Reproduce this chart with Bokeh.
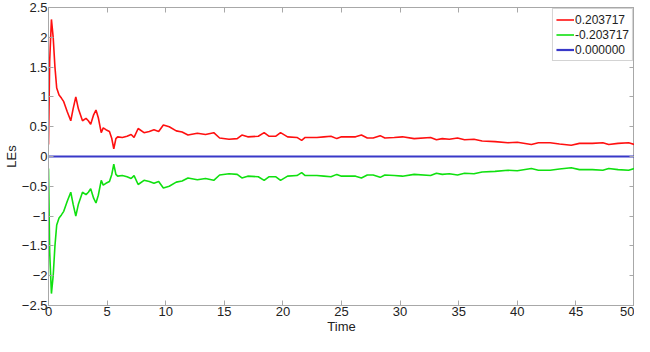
from bokeh.plotting import figure
from bokeh.models import LinearAxis, Range1d, FixedTicker, Legend, LegendItem
from bokeh.embed import file_html
from bokeh.resources import INLINE

time = [0, 0.1, 0.25, 0.4, 0.55, 0.7, 0.9, 1.1, 1.3, 1.6, 1.9, 2.1, 2.33, 2.55, 2.9, 3.2,
        3.4, 3.6, 3.85, 4.05, 4.25, 4.5, 4.67, 4.9, 5.2, 5.4, 5.57, 5.75, 5.9, 6.3, 6.7,
        7.05, 7.3, 7.65, 8.15, 8.6, 9.0, 9.4, 9.8, 10.3, 10.9, 11.4, 11.9, 12.7, 13.4,
        14.1, 14.6, 15.4, 16.1, 16.5, 17.0, 17.9, 18.4, 18.8, 19.4, 19.8, 20.4, 21.2,
        21.6, 21.9, 22.9, 23.5, 24.1, 24.6, 25.0, 26.2, 26.7, 27.2, 27.7, 28.3, 28.7,
        29.5, 30.2, 31.2, 32.6, 33.1, 33.6, 34.2, 34.9, 35.5, 36.3, 37.0, 38.1, 39.2,
        40.0, 41.2, 41.8, 42.8, 43.6, 44.6, 45.3, 46.4, 47.3, 47.8, 48.6, 49.5, 50.0]

le_pos = [0.2, 1.6, 2.3, 2.0, 1.5, 1.15, 1.03, 0.98, 0.92, 0.75, 0.6, 0.8, 1.0, 0.8, 0.6, 0.64,
          0.6, 0.54, 0.7, 0.78, 0.65, 0.4, 0.48, 0.45, 0.42, 0.3, 0.13, 0.3, 0.33, 0.32, 0.34,
          0.37, 0.32, 0.47, 0.4, 0.42, 0.45, 0.42, 0.53, 0.5, 0.43, 0.41, 0.36, 0.39, 0.37,
          0.40, 0.31, 0.29, 0.30, 0.36, 0.33, 0.34, 0.40, 0.34, 0.34, 0.40, 0.33, 0.32,
          0.27, 0.32, 0.32, 0.33, 0.34, 0.30, 0.33, 0.33, 0.36, 0.31, 0.31, 0.35, 0.31,
          0.32, 0.33, 0.30, 0.32, 0.28, 0.30, 0.29, 0.31, 0.28, 0.29, 0.26, 0.25, 0.23,
          0.24, 0.20, 0.23, 0.23, 0.21, 0.19, 0.22, 0.22, 0.23, 0.20, 0.22, 0.23, 0.20]

le_neg = [-0.2, -1.6, -2.3, -2.0, -1.5, -1.15, -1.03, -0.98, -0.92, -0.75, -0.6, -0.8, -1.0, -0.8, -0.6, -0.64,
          -0.6, -0.54, -0.7, -0.78, -0.65, -0.4, -0.48, -0.45, -0.42, -0.3, -0.13, -0.3, -0.33, -0.32, -0.34,
          -0.37, -0.32, -0.47, -0.4, -0.42, -0.45, -0.42, -0.53, -0.5, -0.43, -0.41, -0.36, -0.39, -0.37,
          -0.40, -0.31, -0.29, -0.30, -0.36, -0.33, -0.34, -0.40, -0.34, -0.34, -0.40, -0.33, -0.32,
          -0.27, -0.32, -0.32, -0.33, -0.34, -0.30, -0.33, -0.33, -0.36, -0.31, -0.31, -0.35, -0.31,
          -0.32, -0.33, -0.30, -0.32, -0.28, -0.30, -0.29, -0.31, -0.28, -0.29, -0.26, -0.25, -0.23,
          -0.24, -0.20, -0.23, -0.23, -0.21, -0.19, -0.22, -0.22, -0.23, -0.20, -0.22, -0.23, -0.20]

zero_t = [0, 50]
zero_v = [0, 0]

labels = ["0.203717", "-0.203717", "0.000000"]
colors = ["#ff1010", "#10e010", "#3838c8"]

x_ticks = [0, 5, 10, 15, 20, 25, 30, 35, 40, 45, 50]
y_ticks = [-2.5, -2, -1.5, -1, -0.5, 0, 0.5, 1, 1.5, 2, 2.5]

FONT = "Liberation Sans"
FRAME = "#a8a8a8"
TXT = "#222222"

p = figure(width=634, height=336, output_backend="svg", toolbar_location=None,
           x_range=Range1d(0, 50), y_range=Range1d(-2.5, 2.5),
           min_border_top=7, min_border_right=0, min_border_left=0, min_border_bottom=0)
p.grid.visible = False
p.outline_line_color = FRAME
p.background_fill_color = "white"

r1 = p.line(time, le_pos, line_color=colors[0], line_width=1.6)
r2 = p.line(time, le_neg, line_color=colors[1], line_width=1.6)
r3 = p.line(zero_t, zero_v, line_color=colors[2], line_width=2.2)

for ax in [p.xaxis[0], p.yaxis[0]]:
    ax.axis_line_color = FRAME
    ax.major_tick_line_color = FRAME
    ax.major_tick_in = 5
    ax.major_tick_out = 0
    ax.minor_tick_line_color = None
    ax.major_label_text_font = FONT
    ax.major_label_text_font_size = "13px"
    ax.major_label_text_color = TXT
    ax.axis_label_text_font = FONT
    ax.axis_label_text_font_size = "13px"
    ax.axis_label_text_font_style = "normal"
    ax.axis_label_text_color = TXT
    ax.major_label_standoff = 1
    ax.axis_label_standoff = 0

p.xaxis[0].ticker = FixedTicker(ticks=x_ticks)
p.yaxis[0].ticker = FixedTicker(ticks=y_ticks)
p.xaxis[0].axis_label = "Time"
p.yaxis[0].axis_label = "LEs"

top = LinearAxis(ticker=FixedTicker(ticks=x_ticks))
right = LinearAxis(ticker=FixedTicker(ticks=y_ticks))
for ax in [top, right]:
    ax.axis_line_color = FRAME
    ax.major_tick_line_color = FRAME
    ax.major_tick_in = 5
    ax.major_tick_out = 0
    ax.minor_tick_line_color = None
    ax.major_label_text_font_size = "1px"
    ax.major_label_text_color = None
    ax.major_label_standoff = 0
    ax.axis_label = None
p.add_layout(top, "above")
p.add_layout(right, "right")

legend = Legend(items=[LegendItem(label=labels[0], renderers=[r1]),
                       LegendItem(label=labels[1], renderers=[r2]),
                       LegendItem(label=labels[2], renderers=[r3])],
                location="top_right")
legend.margin = 1
legend.padding = 3
legend.spacing = 0
legend.glyph_width = 18
legend.glyph_height = 15
legend.label_standoff = 1
legend.label_height = 15
legend.label_text_font = FONT
legend.label_text_font_size = "12px"
legend.label_text_color = TXT
legend.border_line_color = FRAME
legend.background_fill_alpha = 1
p.add_layout(legend)

open("out.html", "w").write(file_html(p, INLINE))
